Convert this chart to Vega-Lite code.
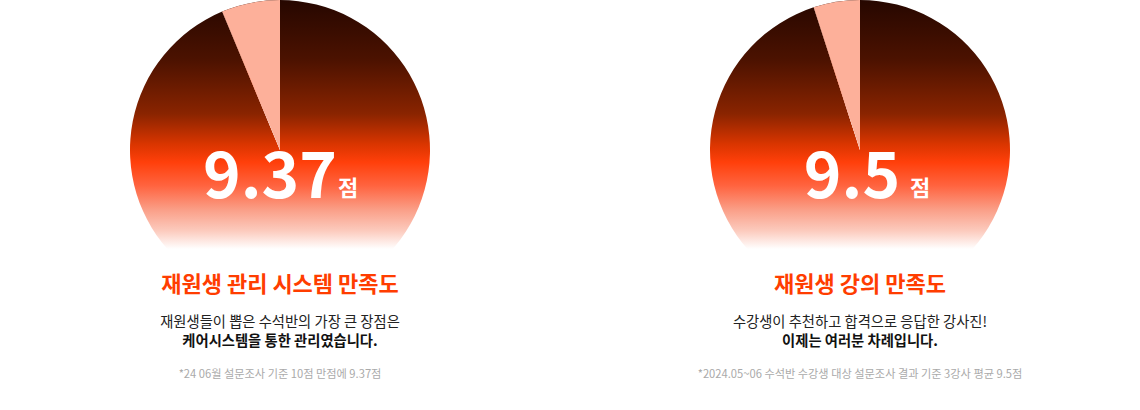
{
  "$schema": "https://vega.github.io/schema/vega-lite/v6.json",
  "background": "white",
  "padding": 0,
  "spacing": 20,
  "hconcat": [
    {
      "width": 560,
      "height": 410,
      "data": {"values": [
        {"kind": "slice", "part": "score", "ord": 1, "value": 9.37},
        {"kind": "slice", "part": "rest", "ord": 2, "value": 0.63},
        {"kind": "score", "text": "9.37"},
        {"kind": "unit", "text": "점"},
        {"kind": "title", "text": "재원생 관리 시스템 만족도"},
        {"kind": "line1", "text": "재원생들이 뽑은 수석반의 가장 큰 장점은"},
        {"kind": "line2", "text": "케어시스템을 통한 관리였습니다."},
        {"kind": "note", "text": "*24 06월 설문조사 기준 10점 만점에 9.37점"}
      ]},
      "layer": [
        {
          "transform": [{"filter": "datum.kind === 'slice'"}],
          "mark": {"type": "arc", "radius": 150, "yOffset": -55,
            "fill": {"gradient": "linear", "x1": 0, "y1": 0, "x2": 0, "y2": 1, "stops": [
              {"offset": 0, "color": "#260700"},
              {"offset": 0.2, "color": "#4c1200"},
              {"offset": 0.38, "color": "#8a2400"},
              {"offset": 0.48, "color": "#d93500"},
              {"offset": 0.54, "color": "#ff3f0a"},
              {"offset": 0.62, "color": "#ff6440"},
              {"offset": 0.7, "color": "#fa9f88"},
              {"offset": 0.77, "color": "#fccbbe"},
              {"offset": 0.83, "color": "#ffffff"},
              {"offset": 1, "color": "#ffffff"}
            ]}},
          "encoding": {
            "theta": {"field": "value", "type": "quantitative"},
            "order": {"field": "ord", "type": "quantitative"}
          }
        },
        {
          "transform": [{"filter": "datum.kind === 'slice'"}],
          "mark": {"type": "arc", "radius": 150, "yOffset": -55, "fill": "#fdb09a"},
          "encoding": {
            "theta": {"field": "value", "type": "quantitative"},
            "order": {"field": "ord", "type": "quantitative"},
            "opacity": {"condition": {"test": "datum.part === 'rest'", "value": 1}, "value": 0}
          }
        },
        {
          "transform": [{"filter": "datum.kind === 'score'"}],
          "mark": {"type": "text", "font": "Noto Sans CJK KR", "fontWeight": "bold", "fontSize": 64, "color": "white", "align": "center", "baseline": "alphabetic", "dx": -10, "dy": -7},
          "encoding": {"text": {"field": "text"}}
        },
        {
          "transform": [{"filter": "datum.kind === 'unit'"}],
          "mark": {"type": "text", "font": "Noto Sans CJK KR", "fontWeight": "bold", "fontSize": 22, "color": "white", "align": "left", "baseline": "alphabetic", "dx": 58, "dy": -9},
          "encoding": {"text": {"field": "text"}}
        },
        {
          "transform": [{"filter": "datum.kind === 'title'"}],
          "mark": {"type": "text", "font": "Noto Sans CJK KR", "fontWeight": "bold", "fontSize": 22, "color": "#ff3d00", "align": "center", "baseline": "middle", "dy": 80},
          "encoding": {"text": {"field": "text"}}
        },
        {
          "transform": [{"filter": "datum.kind === 'line1'"}],
          "mark": {"type": "text", "font": "Noto Sans CJK KR", "fontWeight": "normal", "fontSize": 14.3, "color": "#222222", "align": "center", "baseline": "middle", "dy": 118},
          "encoding": {"text": {"field": "text"}}
        },
        {
          "transform": [{"filter": "datum.kind === 'line2'"}],
          "mark": {"type": "text", "font": "Noto Sans CJK KR", "fontWeight": "bold", "fontSize": 14.3, "color": "#111111", "align": "center", "baseline": "middle", "dy": 137},
          "encoding": {"text": {"field": "text"}}
        },
        {
          "transform": [{"filter": "datum.kind === 'note'"}],
          "mark": {"type": "text", "font": "Noto Sans CJK KR", "fontWeight": "normal", "fontSize": 11.2, "color": "#aaaaaa", "align": "center", "baseline": "middle", "dy": 170},
          "encoding": {"text": {"field": "text"}}
        }
      ]
    },
    {
      "width": 560,
      "height": 410,
      "data": {"values": [
        {"kind": "slice", "part": "score", "ord": 1, "value": 9.5},
        {"kind": "slice", "part": "rest", "ord": 2, "value": 0.5},
        {"kind": "score", "text": "9.5"},
        {"kind": "unit", "text": "점"},
        {"kind": "title", "text": "재원생 강의 만족도"},
        {"kind": "line1", "text": "수강생이 추천하고 합격으로 응답한 강사진!"},
        {"kind": "line2", "text": "이제는 여러분 차례입니다."},
        {"kind": "note", "text": "*2024.05~06 수석반 수강생 대상 설문조사 결과 기준 3강사 평균 9.5점"}
      ]},
      "layer": [
        {
          "transform": [{"filter": "datum.kind === 'slice'"}],
          "mark": {"type": "arc", "radius": 150, "yOffset": -55,
            "fill": {"gradient": "linear", "x1": 0, "y1": 0, "x2": 0, "y2": 1, "stops": [
              {"offset": 0, "color": "#260700"},
              {"offset": 0.2, "color": "#4c1200"},
              {"offset": 0.38, "color": "#8a2400"},
              {"offset": 0.48, "color": "#d93500"},
              {"offset": 0.54, "color": "#ff3f0a"},
              {"offset": 0.62, "color": "#ff6440"},
              {"offset": 0.7, "color": "#fa9f88"},
              {"offset": 0.77, "color": "#fccbbe"},
              {"offset": 0.83, "color": "#ffffff"},
              {"offset": 1, "color": "#ffffff"}
            ]}},
          "encoding": {
            "theta": {"field": "value", "type": "quantitative"},
            "order": {"field": "ord", "type": "quantitative"}
          }
        },
        {
          "transform": [{"filter": "datum.kind === 'slice'"}],
          "mark": {"type": "arc", "radius": 150, "yOffset": -55, "fill": "#fdb09a"},
          "encoding": {
            "theta": {"field": "value", "type": "quantitative"},
            "order": {"field": "ord", "type": "quantitative"},
            "opacity": {"condition": {"test": "datum.part === 'rest'", "value": 1}, "value": 0}
          }
        },
        {
          "transform": [{"filter": "datum.kind === 'score'"}],
          "mark": {"type": "text", "font": "Noto Sans CJK KR", "fontWeight": "bold", "fontSize": 64, "color": "white", "align": "center", "baseline": "alphabetic", "dx": -8, "dy": -7},
          "encoding": {"text": {"field": "text"}}
        },
        {
          "transform": [{"filter": "datum.kind === 'unit'"}],
          "mark": {"type": "text", "font": "Noto Sans CJK KR", "fontWeight": "bold", "fontSize": 22, "color": "white", "align": "left", "baseline": "alphabetic", "dx": 50, "dy": -9},
          "encoding": {"text": {"field": "text"}}
        },
        {
          "transform": [{"filter": "datum.kind === 'title'"}],
          "mark": {"type": "text", "font": "Noto Sans CJK KR", "fontWeight": "bold", "fontSize": 22, "color": "#ff3d00", "align": "center", "baseline": "middle", "dy": 80},
          "encoding": {"text": {"field": "text"}}
        },
        {
          "transform": [{"filter": "datum.kind === 'line1'"}],
          "mark": {"type": "text", "font": "Noto Sans CJK KR", "fontWeight": "normal", "fontSize": 14.3, "color": "#222222", "align": "center", "baseline": "middle", "dy": 118},
          "encoding": {"text": {"field": "text"}}
        },
        {
          "transform": [{"filter": "datum.kind === 'line2'"}],
          "mark": {"type": "text", "font": "Noto Sans CJK KR", "fontWeight": "bold", "fontSize": 14.3, "color": "#111111", "align": "center", "baseline": "middle", "dy": 137},
          "encoding": {"text": {"field": "text"}}
        },
        {
          "transform": [{"filter": "datum.kind === 'note'"}],
          "mark": {"type": "text", "font": "Noto Sans CJK KR", "fontWeight": "normal", "fontSize": 11.2, "color": "#aaaaaa", "align": "center", "baseline": "middle", "dy": 170},
          "encoding": {"text": {"field": "text"}}
        }
      ]
    }
  ],
  "config": {
    "view": {"stroke": null},
    "arc": {"stroke": null}
  }
}
